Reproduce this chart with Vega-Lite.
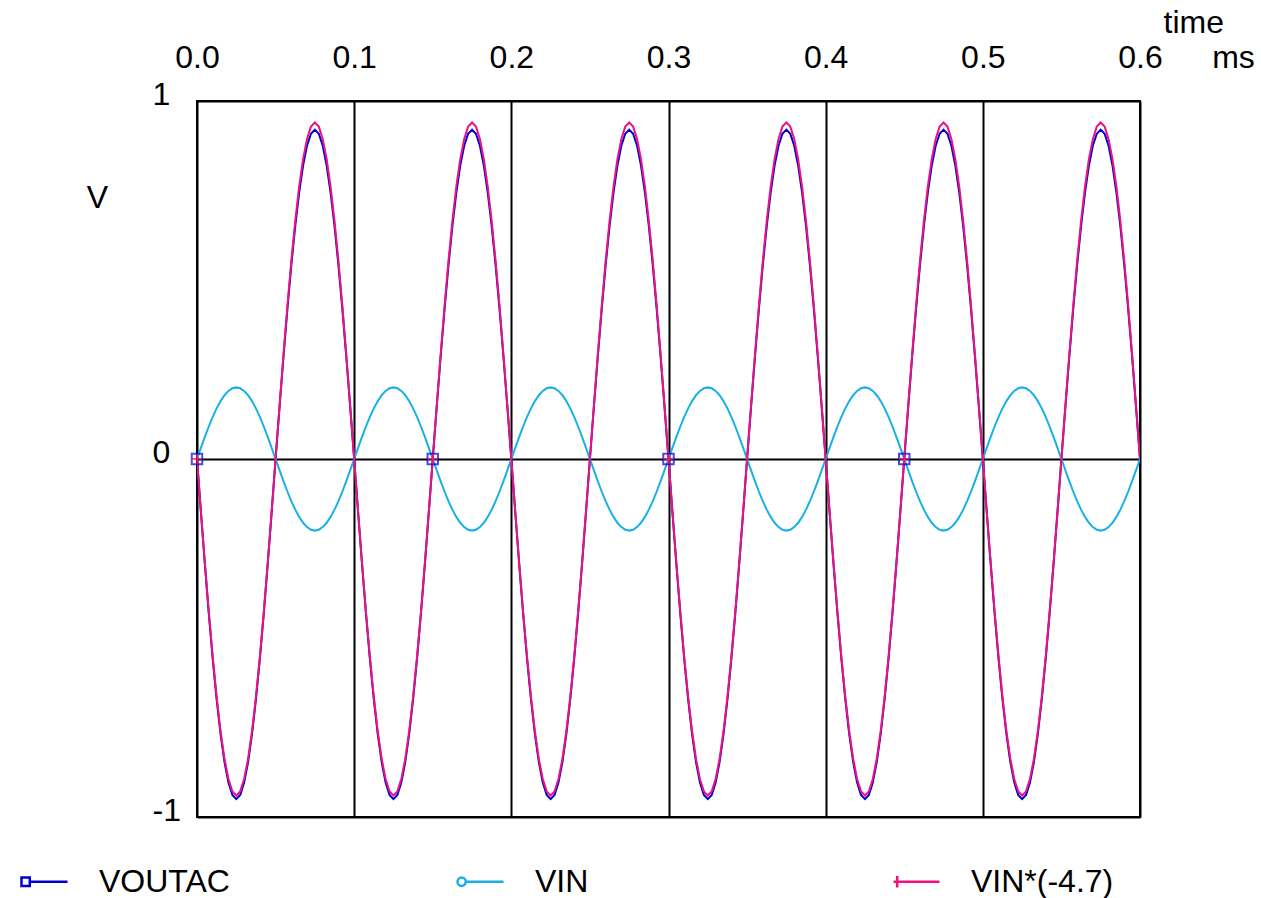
{
"$schema":"https://vega.github.io/schema/vega-lite/v6.json",
"width":943,"height":716,
"autosize":{"type":"none"},
"padding":{"left":197,"top":101,"right":121,"bottom":81},
"background":"white",
"config":{"view":{"stroke":"black","strokeWidth":2},"font":"Liberation Sans"},
"resolve":{"axis":{"x":"independent"}},
"data":{"values":[
{"t":0,"vo":0,"vi":0,"vx":0},{"t":0.0025,"vo":-0.1486,"vi":0.0313,"vx":-0.147},{"t":0.005,"vo":-0.2936,"vi":0.0618,"vx":-0.2905},{"t":0.0075,"vo":-0.4313,"vi":0.0908,"vx":-0.4268},{"t":0.01,"vo":-0.5584,"vi":0.1176,"vx":-0.5525},{"t":0.0125,"vo":-0.6717,"vi":0.1414,"vx":-0.6647},{"t":0.015,"vo":-0.7686,"vi":0.1618,"vx":-0.7605},{"t":0.0175,"vo":-0.8465,"vi":0.1782,"vx":-0.8375},{"t":0.02,"vo":-0.9035,"vi":0.1902,"vx":-0.894},{"t":0.0225,"vo":-0.9383,"vi":0.1975,"vx":-0.9284},{"t":0.025,"vo":-0.95,"vi":0.2,"vx":-0.94},{"t":0.0275,"vo":-0.9383,"vi":0.1975,"vx":-0.9284},{"t":0.03,"vo":-0.9035,"vi":0.1902,"vx":-0.894},{"t":0.0325,"vo":-0.8465,"vi":0.1782,"vx":-0.8375},{"t":0.035,"vo":-0.7686,"vi":0.1618,"vx":-0.7605},{"t":0.0375,"vo":-0.6717,"vi":0.1414,"vx":-0.6647},{"t":0.04,"vo":-0.5584,"vi":0.1176,"vx":-0.5525},{"t":0.0425,"vo":-0.4313,"vi":0.0908,"vx":-0.4268},{"t":0.045,"vo":-0.2936,"vi":0.0618,"vx":-0.2905},{"t":0.0475,"vo":-0.1486,"vi":0.0313,"vx":-0.147},
{"t":0.05,"vo":0,"vi":0,"vx":0},{"t":0.0525,"vo":0.1439,"vi":-0.0313,"vx":0.147},{"t":0.055,"vo":0.2843,"vi":-0.0618,"vx":0.2905},{"t":0.0575,"vo":0.4177,"vi":-0.0908,"vx":0.4268},{"t":0.06,"vo":0.5408,"vi":-0.1176,"vx":0.5525},{"t":0.0625,"vo":0.6505,"vi":-0.1414,"vx":0.6647},{"t":0.065,"vo":0.7443,"vi":-0.1618,"vx":0.7605},{"t":0.0675,"vo":0.8197,"vi":-0.1782,"vx":0.8375},{"t":0.07,"vo":0.875,"vi":-0.1902,"vx":0.894},{"t":0.0725,"vo":0.9087,"vi":-0.1975,"vx":0.9284},{"t":0.075,"vo":0.92,"vi":-0.2,"vx":0.94},{"t":0.0775,"vo":0.9087,"vi":-0.1975,"vx":0.9284},{"t":0.08,"vo":0.875,"vi":-0.1902,"vx":0.894},{"t":0.0825,"vo":0.8197,"vi":-0.1782,"vx":0.8375},{"t":0.085,"vo":0.7443,"vi":-0.1618,"vx":0.7605},{"t":0.0875,"vo":0.6505,"vi":-0.1414,"vx":0.6647},{"t":0.09,"vo":0.5408,"vi":-0.1176,"vx":0.5525},{"t":0.0925,"vo":0.4177,"vi":-0.0908,"vx":0.4268},{"t":0.095,"vo":0.2843,"vi":-0.0618,"vx":0.2905},{"t":0.0975,"vo":0.1439,"vi":-0.0313,"vx":0.147},
{"t":0.1,"vo":0,"vi":0,"vx":0},{"t":0.1025,"vo":-0.1486,"vi":0.0313,"vx":-0.147},{"t":0.105,"vo":-0.2936,"vi":0.0618,"vx":-0.2905},{"t":0.1075,"vo":-0.4313,"vi":0.0908,"vx":-0.4268},{"t":0.11,"vo":-0.5584,"vi":0.1176,"vx":-0.5525},{"t":0.1125,"vo":-0.6717,"vi":0.1414,"vx":-0.6647},{"t":0.115,"vo":-0.7686,"vi":0.1618,"vx":-0.7605},{"t":0.1175,"vo":-0.8465,"vi":0.1782,"vx":-0.8375},{"t":0.12,"vo":-0.9035,"vi":0.1902,"vx":-0.894},{"t":0.1225,"vo":-0.9383,"vi":0.1975,"vx":-0.9284},{"t":0.125,"vo":-0.95,"vi":0.2,"vx":-0.94},{"t":0.1275,"vo":-0.9383,"vi":0.1975,"vx":-0.9284},{"t":0.13,"vo":-0.9035,"vi":0.1902,"vx":-0.894},{"t":0.1325,"vo":-0.8465,"vi":0.1782,"vx":-0.8375},{"t":0.135,"vo":-0.7686,"vi":0.1618,"vx":-0.7605},{"t":0.1375,"vo":-0.6717,"vi":0.1414,"vx":-0.6647},{"t":0.14,"vo":-0.5584,"vi":0.1176,"vx":-0.5525},{"t":0.1425,"vo":-0.4313,"vi":0.0908,"vx":-0.4268},{"t":0.145,"vo":-0.2936,"vi":0.0618,"vx":-0.2905},{"t":0.1475,"vo":-0.1486,"vi":0.0313,"vx":-0.147},
{"t":0.15,"vo":0,"vi":0,"vx":0},{"t":0.1525,"vo":0.1439,"vi":-0.0313,"vx":0.147},{"t":0.155,"vo":0.2843,"vi":-0.0618,"vx":0.2905},{"t":0.1575,"vo":0.4177,"vi":-0.0908,"vx":0.4268},{"t":0.16,"vo":0.5408,"vi":-0.1176,"vx":0.5525},{"t":0.1625,"vo":0.6505,"vi":-0.1414,"vx":0.6647},{"t":0.165,"vo":0.7443,"vi":-0.1618,"vx":0.7605},{"t":0.1675,"vo":0.8197,"vi":-0.1782,"vx":0.8375},{"t":0.17,"vo":0.875,"vi":-0.1902,"vx":0.894},{"t":0.1725,"vo":0.9087,"vi":-0.1975,"vx":0.9284},{"t":0.175,"vo":0.92,"vi":-0.2,"vx":0.94},{"t":0.1775,"vo":0.9087,"vi":-0.1975,"vx":0.9284},{"t":0.18,"vo":0.875,"vi":-0.1902,"vx":0.894},{"t":0.1825,"vo":0.8197,"vi":-0.1782,"vx":0.8375},{"t":0.185,"vo":0.7443,"vi":-0.1618,"vx":0.7605},{"t":0.1875,"vo":0.6505,"vi":-0.1414,"vx":0.6647},{"t":0.19,"vo":0.5408,"vi":-0.1176,"vx":0.5525},{"t":0.1925,"vo":0.4177,"vi":-0.0908,"vx":0.4268},{"t":0.195,"vo":0.2843,"vi":-0.0618,"vx":0.2905},{"t":0.1975,"vo":0.1439,"vi":-0.0313,"vx":0.147},
{"t":0.2,"vo":0,"vi":0,"vx":0},{"t":0.2025,"vo":-0.1486,"vi":0.0313,"vx":-0.147},{"t":0.205,"vo":-0.2936,"vi":0.0618,"vx":-0.2905},{"t":0.2075,"vo":-0.4313,"vi":0.0908,"vx":-0.4268},{"t":0.21,"vo":-0.5584,"vi":0.1176,"vx":-0.5525},{"t":0.2125,"vo":-0.6717,"vi":0.1414,"vx":-0.6647},{"t":0.215,"vo":-0.7686,"vi":0.1618,"vx":-0.7605},{"t":0.2175,"vo":-0.8465,"vi":0.1782,"vx":-0.8375},{"t":0.22,"vo":-0.9035,"vi":0.1902,"vx":-0.894},{"t":0.2225,"vo":-0.9383,"vi":0.1975,"vx":-0.9284},{"t":0.225,"vo":-0.95,"vi":0.2,"vx":-0.94},{"t":0.2275,"vo":-0.9383,"vi":0.1975,"vx":-0.9284},{"t":0.23,"vo":-0.9035,"vi":0.1902,"vx":-0.894},{"t":0.2325,"vo":-0.8465,"vi":0.1782,"vx":-0.8375},{"t":0.235,"vo":-0.7686,"vi":0.1618,"vx":-0.7605},{"t":0.2375,"vo":-0.6717,"vi":0.1414,"vx":-0.6647},{"t":0.24,"vo":-0.5584,"vi":0.1176,"vx":-0.5525},{"t":0.2425,"vo":-0.4313,"vi":0.0908,"vx":-0.4268},{"t":0.245,"vo":-0.2936,"vi":0.0618,"vx":-0.2905},{"t":0.2475,"vo":-0.1486,"vi":0.0313,"vx":-0.147},
{"t":0.25,"vo":0,"vi":0,"vx":0},{"t":0.2525,"vo":0.1439,"vi":-0.0313,"vx":0.147},{"t":0.255,"vo":0.2843,"vi":-0.0618,"vx":0.2905},{"t":0.2575,"vo":0.4177,"vi":-0.0908,"vx":0.4268},{"t":0.26,"vo":0.5408,"vi":-0.1176,"vx":0.5525},{"t":0.2625,"vo":0.6505,"vi":-0.1414,"vx":0.6647},{"t":0.265,"vo":0.7443,"vi":-0.1618,"vx":0.7605},{"t":0.2675,"vo":0.8197,"vi":-0.1782,"vx":0.8375},{"t":0.27,"vo":0.875,"vi":-0.1902,"vx":0.894},{"t":0.2725,"vo":0.9087,"vi":-0.1975,"vx":0.9284},{"t":0.275,"vo":0.92,"vi":-0.2,"vx":0.94},{"t":0.2775,"vo":0.9087,"vi":-0.1975,"vx":0.9284},{"t":0.28,"vo":0.875,"vi":-0.1902,"vx":0.894},{"t":0.2825,"vo":0.8197,"vi":-0.1782,"vx":0.8375},{"t":0.285,"vo":0.7443,"vi":-0.1618,"vx":0.7605},{"t":0.2875,"vo":0.6505,"vi":-0.1414,"vx":0.6647},{"t":0.29,"vo":0.5408,"vi":-0.1176,"vx":0.5525},{"t":0.2925,"vo":0.4177,"vi":-0.0908,"vx":0.4268},{"t":0.295,"vo":0.2843,"vi":-0.0618,"vx":0.2905},{"t":0.2975,"vo":0.1439,"vi":-0.0313,"vx":0.147},
{"t":0.3,"vo":0,"vi":0,"vx":0},{"t":0.3025,"vo":-0.1486,"vi":0.0313,"vx":-0.147},{"t":0.305,"vo":-0.2936,"vi":0.0618,"vx":-0.2905},{"t":0.3075,"vo":-0.4313,"vi":0.0908,"vx":-0.4268},{"t":0.31,"vo":-0.5584,"vi":0.1176,"vx":-0.5525},{"t":0.3125,"vo":-0.6717,"vi":0.1414,"vx":-0.6647},{"t":0.315,"vo":-0.7686,"vi":0.1618,"vx":-0.7605},{"t":0.3175,"vo":-0.8465,"vi":0.1782,"vx":-0.8375},{"t":0.32,"vo":-0.9035,"vi":0.1902,"vx":-0.894},{"t":0.3225,"vo":-0.9383,"vi":0.1975,"vx":-0.9284},{"t":0.325,"vo":-0.95,"vi":0.2,"vx":-0.94},{"t":0.3275,"vo":-0.9383,"vi":0.1975,"vx":-0.9284},{"t":0.33,"vo":-0.9035,"vi":0.1902,"vx":-0.894},{"t":0.3325,"vo":-0.8465,"vi":0.1782,"vx":-0.8375},{"t":0.335,"vo":-0.7686,"vi":0.1618,"vx":-0.7605},{"t":0.3375,"vo":-0.6717,"vi":0.1414,"vx":-0.6647},{"t":0.34,"vo":-0.5584,"vi":0.1176,"vx":-0.5525},{"t":0.3425,"vo":-0.4313,"vi":0.0908,"vx":-0.4268},{"t":0.345,"vo":-0.2936,"vi":0.0618,"vx":-0.2905},{"t":0.3475,"vo":-0.1486,"vi":0.0313,"vx":-0.147},
{"t":0.35,"vo":0,"vi":0,"vx":0},{"t":0.3525,"vo":0.1439,"vi":-0.0313,"vx":0.147},{"t":0.355,"vo":0.2843,"vi":-0.0618,"vx":0.2905},{"t":0.3575,"vo":0.4177,"vi":-0.0908,"vx":0.4268},{"t":0.36,"vo":0.5408,"vi":-0.1176,"vx":0.5525},{"t":0.3625,"vo":0.6505,"vi":-0.1414,"vx":0.6647},{"t":0.365,"vo":0.7443,"vi":-0.1618,"vx":0.7605},{"t":0.3675,"vo":0.8197,"vi":-0.1782,"vx":0.8375},{"t":0.37,"vo":0.875,"vi":-0.1902,"vx":0.894},{"t":0.3725,"vo":0.9087,"vi":-0.1975,"vx":0.9284},{"t":0.375,"vo":0.92,"vi":-0.2,"vx":0.94},{"t":0.3775,"vo":0.9087,"vi":-0.1975,"vx":0.9284},{"t":0.38,"vo":0.875,"vi":-0.1902,"vx":0.894},{"t":0.3825,"vo":0.8197,"vi":-0.1782,"vx":0.8375},{"t":0.385,"vo":0.7443,"vi":-0.1618,"vx":0.7605},{"t":0.3875,"vo":0.6505,"vi":-0.1414,"vx":0.6647},{"t":0.39,"vo":0.5408,"vi":-0.1176,"vx":0.5525},{"t":0.3925,"vo":0.4177,"vi":-0.0908,"vx":0.4268},{"t":0.395,"vo":0.2843,"vi":-0.0618,"vx":0.2905},{"t":0.3975,"vo":0.1439,"vi":-0.0313,"vx":0.147},
{"t":0.4,"vo":0,"vi":0,"vx":0},{"t":0.4025,"vo":-0.1486,"vi":0.0313,"vx":-0.147},{"t":0.405,"vo":-0.2936,"vi":0.0618,"vx":-0.2905},{"t":0.4075,"vo":-0.4313,"vi":0.0908,"vx":-0.4268},{"t":0.41,"vo":-0.5584,"vi":0.1176,"vx":-0.5525},{"t":0.4125,"vo":-0.6717,"vi":0.1414,"vx":-0.6647},{"t":0.415,"vo":-0.7686,"vi":0.1618,"vx":-0.7605},{"t":0.4175,"vo":-0.8465,"vi":0.1782,"vx":-0.8375},{"t":0.42,"vo":-0.9035,"vi":0.1902,"vx":-0.894},{"t":0.4225,"vo":-0.9383,"vi":0.1975,"vx":-0.9284},{"t":0.425,"vo":-0.95,"vi":0.2,"vx":-0.94},{"t":0.4275,"vo":-0.9383,"vi":0.1975,"vx":-0.9284},{"t":0.43,"vo":-0.9035,"vi":0.1902,"vx":-0.894},{"t":0.4325,"vo":-0.8465,"vi":0.1782,"vx":-0.8375},{"t":0.435,"vo":-0.7686,"vi":0.1618,"vx":-0.7605},{"t":0.4375,"vo":-0.6717,"vi":0.1414,"vx":-0.6647},{"t":0.44,"vo":-0.5584,"vi":0.1176,"vx":-0.5525},{"t":0.4425,"vo":-0.4313,"vi":0.0908,"vx":-0.4268},{"t":0.445,"vo":-0.2936,"vi":0.0618,"vx":-0.2905},{"t":0.4475,"vo":-0.1486,"vi":0.0313,"vx":-0.147},
{"t":0.45,"vo":0,"vi":0,"vx":0},{"t":0.4525,"vo":0.1439,"vi":-0.0313,"vx":0.147},{"t":0.455,"vo":0.2843,"vi":-0.0618,"vx":0.2905},{"t":0.4575,"vo":0.4177,"vi":-0.0908,"vx":0.4268},{"t":0.46,"vo":0.5408,"vi":-0.1176,"vx":0.5525},{"t":0.4625,"vo":0.6505,"vi":-0.1414,"vx":0.6647},{"t":0.465,"vo":0.7443,"vi":-0.1618,"vx":0.7605},{"t":0.4675,"vo":0.8197,"vi":-0.1782,"vx":0.8375},{"t":0.47,"vo":0.875,"vi":-0.1902,"vx":0.894},{"t":0.4725,"vo":0.9087,"vi":-0.1975,"vx":0.9284},{"t":0.475,"vo":0.92,"vi":-0.2,"vx":0.94},{"t":0.4775,"vo":0.9087,"vi":-0.1975,"vx":0.9284},{"t":0.48,"vo":0.875,"vi":-0.1902,"vx":0.894},{"t":0.4825,"vo":0.8197,"vi":-0.1782,"vx":0.8375},{"t":0.485,"vo":0.7443,"vi":-0.1618,"vx":0.7605},{"t":0.4875,"vo":0.6505,"vi":-0.1414,"vx":0.6647},{"t":0.49,"vo":0.5408,"vi":-0.1176,"vx":0.5525},{"t":0.4925,"vo":0.4177,"vi":-0.0908,"vx":0.4268},{"t":0.495,"vo":0.2843,"vi":-0.0618,"vx":0.2905},{"t":0.4975,"vo":0.1439,"vi":-0.0313,"vx":0.147},
{"t":0.5,"vo":0,"vi":0,"vx":0},{"t":0.5025,"vo":-0.1486,"vi":0.0313,"vx":-0.147},{"t":0.505,"vo":-0.2936,"vi":0.0618,"vx":-0.2905},{"t":0.5075,"vo":-0.4313,"vi":0.0908,"vx":-0.4268},{"t":0.51,"vo":-0.5584,"vi":0.1176,"vx":-0.5525},{"t":0.5125,"vo":-0.6717,"vi":0.1414,"vx":-0.6647},{"t":0.515,"vo":-0.7686,"vi":0.1618,"vx":-0.7605},{"t":0.5175,"vo":-0.8465,"vi":0.1782,"vx":-0.8375},{"t":0.52,"vo":-0.9035,"vi":0.1902,"vx":-0.894},{"t":0.5225,"vo":-0.9383,"vi":0.1975,"vx":-0.9284},{"t":0.525,"vo":-0.95,"vi":0.2,"vx":-0.94},{"t":0.5275,"vo":-0.9383,"vi":0.1975,"vx":-0.9284},{"t":0.53,"vo":-0.9035,"vi":0.1902,"vx":-0.894},{"t":0.5325,"vo":-0.8465,"vi":0.1782,"vx":-0.8375},{"t":0.535,"vo":-0.7686,"vi":0.1618,"vx":-0.7605},{"t":0.5375,"vo":-0.6717,"vi":0.1414,"vx":-0.6647},{"t":0.54,"vo":-0.5584,"vi":0.1176,"vx":-0.5525},{"t":0.5425,"vo":-0.4313,"vi":0.0908,"vx":-0.4268},{"t":0.545,"vo":-0.2936,"vi":0.0618,"vx":-0.2905},{"t":0.5475,"vo":-0.1486,"vi":0.0313,"vx":-0.147},
{"t":0.55,"vo":0,"vi":0,"vx":0},{"t":0.5525,"vo":0.1439,"vi":-0.0313,"vx":0.147},{"t":0.555,"vo":0.2843,"vi":-0.0618,"vx":0.2905},{"t":0.5575,"vo":0.4177,"vi":-0.0908,"vx":0.4268},{"t":0.56,"vo":0.5408,"vi":-0.1176,"vx":0.5525},{"t":0.5625,"vo":0.6505,"vi":-0.1414,"vx":0.6647},{"t":0.565,"vo":0.7443,"vi":-0.1618,"vx":0.7605},{"t":0.5675,"vo":0.8197,"vi":-0.1782,"vx":0.8375},{"t":0.57,"vo":0.875,"vi":-0.1902,"vx":0.894},{"t":0.5725,"vo":0.9087,"vi":-0.1975,"vx":0.9284},{"t":0.575,"vo":0.92,"vi":-0.2,"vx":0.94},{"t":0.5775,"vo":0.9087,"vi":-0.1975,"vx":0.9284},{"t":0.58,"vo":0.875,"vi":-0.1902,"vx":0.894},{"t":0.5825,"vo":0.8197,"vi":-0.1782,"vx":0.8375},{"t":0.585,"vo":0.7443,"vi":-0.1618,"vx":0.7605},{"t":0.5875,"vo":0.6505,"vi":-0.1414,"vx":0.6647},{"t":0.59,"vo":0.5408,"vi":-0.1176,"vx":0.5525},{"t":0.5925,"vo":0.4177,"vi":-0.0908,"vx":0.4268},{"t":0.595,"vo":0.2843,"vi":-0.0618,"vx":0.2905},{"t":0.5975,"vo":0.1439,"vi":-0.0313,"vx":0.147},
{"t":0.6,"vo":0,"vi":0,"vx":0}
]},
"layer":[
{
"transform":[{"fold":["vo","vi","vx"],"as":["series","value"]}],
"mark":{"type":"line","strokeWidth":2,"clip":true},
"encoding":{
"x":{"field":"t","type":"quantitative","scale":{"domain":[0,0.6],"nice":false,"zero":false},
 "axis":{"orient":"top","values":[0,0.1,0.2,0.3,0.4,0.5,0.6],"format":".1f","grid":true,"gridColor":"black","gridWidth":2,"gridOpacity":1,"ticks":false,"tickSize":0,"domain":false,"labelFontSize":32,"labelColor":"black","labelBaseline":"middle","labelPadding":44,"labelFlush":false,"labelOverlap":false,
 "title":"time","titleFontSize":32,"titleFontWeight":"normal","titleColor":"black","titleAlign":"left","titleAnchor":"start","titleBaseline":"alphabetic","titleX":966,"titleY":-69}},
"y":{"field":"value","type":"quantitative","scale":{"domain":[-1,1],"nice":false},
 "axis":{"orient":"left","values":[-1,0,1],"labelExpr":"'' + datum.value","grid":true,"gridColor":"black","gridWidth":2,"gridOpacity":1,"ticks":false,"tickSize":0,"domain":false,"labelFontSize":32,"labelColor":"black","labelAlign":"left","labelBaseline":"middle","labelPadding":45,"labelOffset":-7,"labelFlush":false,"labelOverlap":false,
 "encode":{"labels":{"update":{"dx":{"signal":"datum.value < 0 ? -23 : 0"}}}},
 "title":"V","titleAngle":0,"titleFontSize":32,"titleFontWeight":"normal","titleColor":"black","titleAlign":"center","titleBaseline":"middle","titleX":-100,"titleY":96}},
"color":{"field":"series","type":"nominal","sort":null,"scale":{"domain":["vo","vi","vx"],"range":["#0000d0","#18b0e6","#ec1282"]},
 "legend":{"orient":"none","legendX":-177,"legendY":756,"direction":"horizontal","columns":3,"gridAlign":"all","columnPadding":210,"title":null,"padding":0,"symbolSize":2116,"symbolStrokeWidth":2,"labelFontSize":32,"labelColor":"black","labelOffset":30,"labelLimit":400,
 "labelExpr":"datum.value === 'vo' ? 'VOUTAC' : datum.value === 'vi' ? 'VIN' : 'VIN*(-4.7)'",
 "encode":{"symbols":{"update":{"fill":{"value":"transparent"},"strokeWidth":{"value":2.5},"shape":{"signal":"datum.value === 'vo' ? 'M-1,-0.18H-0.64V0.18H-1Z M-0.64,0H1' : datum.value === 'vi' ? 'M-1,0A0.18,0.18 0 1,0 -0.64,0A0.18,0.18 0 1,0 -1,0M-0.64,0H1' : 'M-1,0H1M-0.84,-0.25V0.25'"}}}}}}
}
},
{
"transform":[{"filter":{"field":"t","oneOf":[0,0.15,0.3,0.45]}}],
"mark":{"type":"point","shape":"square","size":110,"filled":false,"color":"#0000d0","strokeWidth":2},
"encoding":{"x":{"field":"t","type":"quantitative","axis":null},"y":{"field":"vo","type":"quantitative"}}
},
{
"transform":[{"filter":{"field":"t","oneOf":[0,0.15,0.3,0.45]}}],
"mark":{"type":"point","shape":"M-1,0H1M0,-1V1","size":110,"filled":false,"color":"#ec1282","strokeWidth":2},
"encoding":{"x":{"field":"t","type":"quantitative","axis":{"orient":"top","values":[0.6],"labelExpr":"'ms'","labelOffset":93,"labelFontSize":32,"labelColor":"black","labelBaseline":"middle","labelPadding":44,"labelFlush":false,"labelOverlap":false,"ticks":false,"tickSize":0,"domain":false,"grid":false,"title":null}},"y":{"field":"vx","type":"quantitative"}}
}
]
}
